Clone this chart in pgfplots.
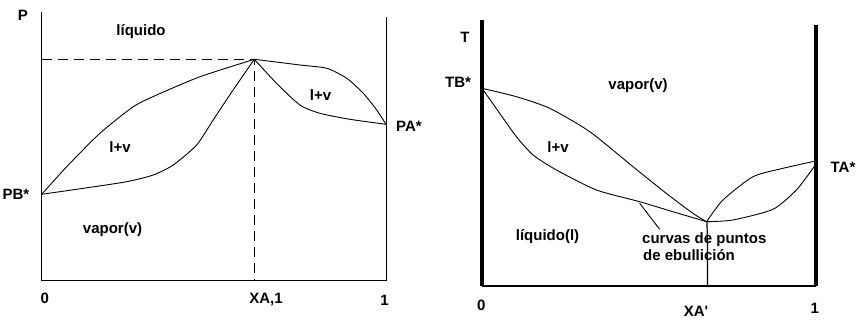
\documentclass[border=0pt]{standalone}
\usepackage{pgfplots}
\pgfplotsset{compat=1.18}
\usepackage{fontspec}
\setmainfont{Liberation Sans}
\begin{document}
\begin{tikzpicture}[every node/.style={font=\fontsize{15bp}{17bp}\selectfont\bfseries, inner sep=0pt}]
\path[use as bounding box] (0,0) rectangle (866bp,326bp);
% ---------- left: P vs XA ----------
\begin{axis}[at={(41.7bp,46bp)}, anchor=south west, scale only axis,
  width=344.3bp, height=268bp, xmin=0, xmax=1, ymin=0, ymax=268,
  hide axis, clip=false]
\addplot[black, line width=0.9bp] coordinates {(0,268)(0,0)(1,0)(1,263)};
\addplot[black, line width=0.9bp, dash pattern=on 10bp off 6bp] coordinates {(0,220.7)(0.6175,220.7)(0.6175,0)};
% upper left curve
\addplot[black, line width=0.9bp, smooth, tension=0.4] coordinates {
(0,85.7)(0.0726,113.3)(0.169,146.7)(0.266,173.3)(0.334,185)(0.460,203.3)(0.6175,220.7)};
% lower left curve
\addplot[black, line width=0.9bp, smooth, tension=0.4] coordinates {
(0,85.7)(0.121,91.7)(0.247,98.3)(0.324,105)(0.382,115)(0.450,135)(0.498,160)(0.556,190)(0.6175,220.7)};
% upper right curve
\addplot[black, line width=0.9bp, smooth, tension=0.4] coordinates {
(0.6175,220.7)(0.750,215)(0.828,211.7)(0.886,201.7)(0.934,186.7)(0.973,170)(1,155.7)};
% lower right curve
\addplot[black, line width=0.9bp, smooth, tension=0.4] coordinates {
(0.6175,220.7)(0.682,196.7)(0.750,175)(0.808,166.7)(0.895,160.7)(1,155.7)};
\end{axis}
% ---------- right: T vs XA ----------
\begin{axis}[at={(482bp,40bp)}, anchor=south west, scale only axis,
  width=333.7bp, height=266bp, xmin=0, xmax=1, ymin=0, ymax=266,
  hide axis, clip=false]
\addplot[black, line width=1.5bp] coordinates {(0,0)(1,0)};
\addplot[black, line width=4bp] coordinates {(0,0)(0,266)};
\addplot[black, line width=4bp] coordinates {(1,0)(1,261)};
\addplot[black, line width=1.2bp] coordinates {(0.676,0)(0.676,40)(0.674,64.3)};
% vapour curve (upper) left
\addplot[black, line width=0.9bp, smooth, tension=0.4] coordinates {
(0,197.7)(0.103,189.3)(0.203,177.7)(0.323,154.3)(0.4525,119.3)(0.552,92.7)(0.632,72.7)(0.673,64.3)};
% liquid curve (lower) left
\addplot[black, line width=0.9bp, smooth, tension=0.4] coordinates {
(0,197.7)(0.053,172.7)(0.103,149.3)(0.153,131)(0.223,116)(0.343,96)(0.4725,84.3)(0.572,74.3)(0.673,64.3)};
% right upper
\addplot[black, line width=0.9bp, smooth, tension=0.4] coordinates {
(0.673,64.3)(0.722,86)(0.812,109.3)(0.902,117.7)(1,125)};
% right lower
\addplot[black, line width=0.9bp, smooth, tension=0.4] coordinates {
(0.673,64.3)(0.752,66)(0.872,76.7)(0.942,96)(0.995,119.3)(1,125)};
% pointer
\addplot[black, line width=0.9bp] coordinates {(0.4725,82.7)(0.5325,56.7)};
\end{axis}
% ---------- labels ----------
\node at (23bp,311bp) {P};
\node at (141bp,294bp) {líquido};
\node at (120bp,179bp) {l+v};
\node at (320.5bp,231bp) {l+v};
\node at (112.5bp,96bp) {vapor(v)};
\node at (16bp,132bp) {PB*};
\node at (409bp,200bp) {PA*};
\node at (44.7bp,28bp) {0};
\node at (266bp,26bp) {XA,1};
\node at (384.5bp,26bp) {1};
\node at (465bp,289bp) {T};
\node at (458bp,243.5bp) {TB*};
\node at (638bp,240bp) {vapor(v)};
\node at (558bp,178.5bp) {l+v};
\node at (547.5bp,89bp) {líquido(l)};
\node[anchor=west] at (642bp,86bp) {curvas de puntos};
\node[anchor=west] at (643bp,70.5bp) {de ebullición};
\node at (843bp,159bp) {TA*};
\node at (481.3bp,21bp) {0};
\node at (696bp,15bp) {XA\textquotesingle};
\node at (814.7bp,18bp) {1};
\end{tikzpicture}
\end{document}
